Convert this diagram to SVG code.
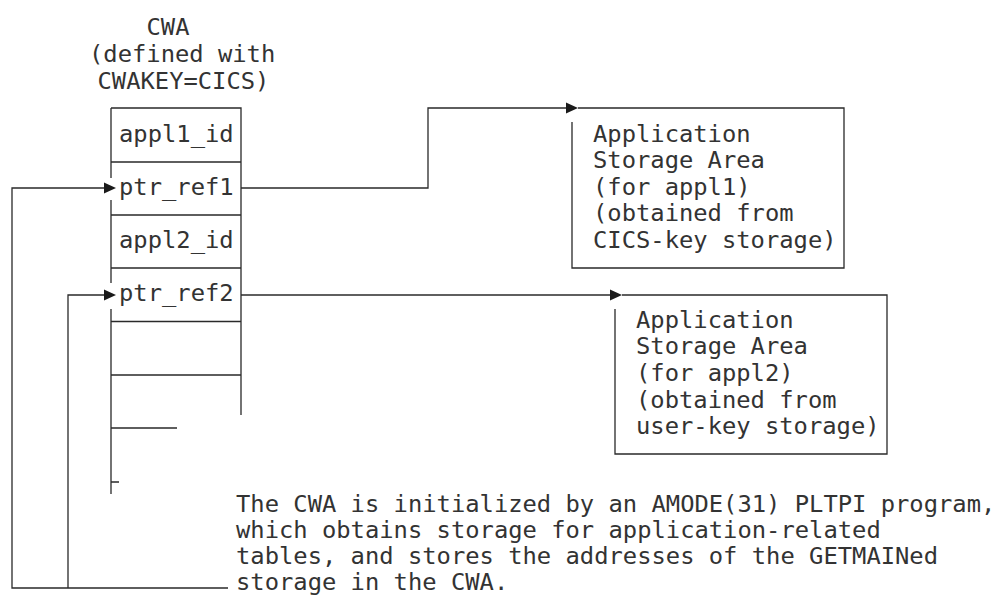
<svg xmlns="http://www.w3.org/2000/svg" width="997" height="597" viewBox="0 0 997 597">
<style>
.t{font-family:"DejaVu Sans Mono","Liberation Mono",monospace;font-size:23.8px;fill:#333}
.ln{fill:none;stroke:#2a2a2a;stroke-width:1.3}
.ah{fill:#1a1a1a}
</style>
<rect width="997" height="597" fill="#fff"/>
<g id="cwa">
<text class="t" x="146.5" y="35">CWA</text>
<text class="t" x="89" y="62">(defined with</text>
<text class="t" x="97.5" y="88.5">CWAKEY=CICS)</text>
<path class="ln" d="M111,108 H241 V415 M111,108 V178 M111,200 V283 M111,309 V494 M111,162 H241 M111,215 H241 M111,268 H241 M111,321.5 H241 M111,375 H241 M111,428 H177 M111,482 H119"/>
<text class="t" x="119" y="142">appl1_id</text>
<text class="t" x="119" y="195">ptr_ref1</text>
<text class="t" x="119" y="248">appl2_id</text>
<text class="t" x="119" y="301">ptr_ref2</text>
</g>
<g id="area1">
<path class="ln" d="M572,122 V268 H844 V108 H578"/>
<text class="t" x="593" y="142">Application</text>
<text class="t" x="593" y="168">Storage Area</text>
<text class="t" x="593" y="195">(for appl1)</text>
<text class="t" x="593" y="221">(obtained from</text>
<text class="t" x="593" y="248">CICS-key storage)</text>
</g>
<g id="area2">
<path class="ln" d="M615,309 V454 H887 V295 H622"/>
<text class="t" x="636" y="328">Application</text>
<text class="t" x="636" y="354">Storage Area</text>
<text class="t" x="636" y="381">(for appl2)</text>
<text class="t" x="636" y="408">(obtained from</text>
<text class="t" x="636" y="434">user-key storage)</text>
</g>
<g id="note">
<text class="t" x="236" y="512">The CWA is initialized by an AMODE(31) PLTPI program,</text>
<text class="t" x="236" y="538">which obtains storage for application-related</text>
<text class="t" x="236" y="564">tables, and stores the addresses of the GETMAINed</text>
<text class="t" x="236" y="590">storage in the CWA.</text>
</g>
<g id="connectors">
<path class="ln" d="M241,188 H428 V108 H567"/>
<polygon class="ah" points="578,108 566,102.5 566,113.5"/>
<path class="ln" d="M241,295 H611"/>
<polygon class="ah" points="622,295 610,289.5 610,300.5"/>
<path class="ln" d="M228,588 H12 V188 H105"/>
<polygon class="ah" points="116,188 104,182.5 104,193.5"/>
<path class="ln" d="M68,588 V295 H105"/>
<polygon class="ah" points="116,295 104,289.5 104,300.5"/>
</g>
</svg>
